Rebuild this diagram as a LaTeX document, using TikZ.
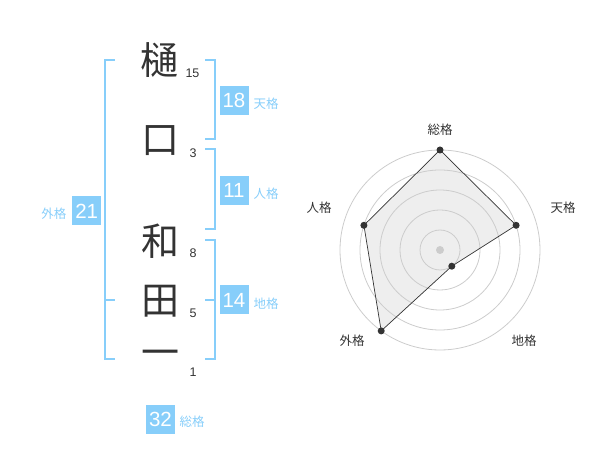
\documentclass[tikz,border=0pt]{standalone}
\usepackage{fontspec}
\setmainfont{Liberation Sans}
\newfontfamily\jp{Noto Sans CJK JP}
\definecolor{sky}{RGB}{135,206,250}
\definecolor{ink}{RGB}{51,51,51}
\definecolor{ringc}{RGB}{204,204,204}
\definecolor{polyfill}{RGB}{238,238,238}
\begin{document}
\begin{tikzpicture}[x=1pt,y=-1pt,
  kanji/.style={font=\jp\fontsize{38}{38}\selectfont, text=ink, inner sep=0pt},
  strokes/.style={font=\fontsize{12.5}{12.5}\selectfont, text=ink, inner sep=0pt},
  numbox/.style={fill=sky, text=white, minimum size=29pt, inner sep=0pt, font=\fontsize{20.5}{20.5}\selectfont},
  lbl/.style={font=\jp\fontsize{12.5}{12.5}\selectfont, text=sky, inner sep=0pt},
  brk/.style={draw=sky, line width=2pt},
  ring/.style={draw=ringc, line width=0.8pt},
  axlbl/.style={font=\jp\fontsize{12.5}{12.5}\selectfont, text=ink, inner sep=0pt},
  vdot/.style={circle, fill=ink, inner sep=0pt, minimum size=7pt},
  poly/.style={draw=ink, line width=0.7pt}
]
\useasboundingbox (0,0) rectangle (600,470);

% name characters
\node[kanji] (c1) at (159.5,60.3) {樋};
\node[kanji] (c2) at (160,141) {口};
\node[kanji] (c3) at (160,241) {和};
\node[kanji] (c4) at (160,301) {田};
\node[kanji] (c5) at (160,358.5) {一};

% stroke counts
\node[strokes] (s1) at (192.5,73) {15};
\node[strokes] (s2) at (193,153) {3};
\node[strokes] (s3) at (193,253) {8};
\node[strokes] (s4) at (193,313) {5};
\node[strokes] (s5) at (193,372.5) {1};

% brackets
\draw[brk] (115,60) -- (105,60) -- (105,359) -- (115,359);
\draw[brk] (105,300) -- (115,300);
\draw[brk] (205,60) -- (215,60) -- (215,139) -- (205,139);
\draw[brk] (205,149) -- (215,149) -- (215,229) -- (205,229);
\draw[brk] (205,240) -- (215,240) -- (215,359) -- (205,359);
\draw[brk] (215,300) -- (205,300);

% score boxes
\node[numbox] (ten) at (234,100.5) {18};
\node[lbl] (tenl) at (266,104) {天格};
\node[numbox] (jin) at (234,190.5) {11};
\node[lbl] (jinl) at (266,194) {人格};
\node[numbox] (chi) at (234,300) {14};
\node[lbl] (chil) at (266,304) {地格};
\node[numbox] (gai) at (86.7,211) {21};
\node[lbl] (gail) at (54,214) {外格};
\node[numbox] (sou) at (160.5,419) {32};
\node[lbl] (soul) at (192,422) {総格};

% radar chart
\coordinate (o) at (440,250);
\coordinate (pS) at (440,150);
\coordinate (pT) at (516.1,225.3);
\coordinate (pC) at (451.8,266.2);
\coordinate (pG) at (381.2,330.9);
\coordinate (pJ) at (363.9,225.3);
\fill[polyfill] (pS) -- (pT) -- (pC) -- (pG) -- (pJ) -- cycle;
\foreach \r in {20,40,60,80,100} \draw[ring] (o) circle[radius=\r];
\fill[ringc] (o) circle[radius=4];
\node[vdot] (dS) at (pS) {};
\node[vdot] (dT) at (pT) {};
\node[vdot] (dC) at (pC) {};
\node[vdot] (dG) at (pG) {};
\node[vdot] (dJ) at (pJ) {};
\draw[poly] (dS.center) -- (dT.center) -- (dC.center) -- (dG.center) -- (dJ.center) -- (dS.center);

\node[axlbl] (aS) at (440,130) {総格};
\node[axlbl] (aT) at (563,208) {天格};
\node[axlbl] (aC) at (524,341) {地格};
\node[axlbl] (aG) at (352,341) {外格};
\node[axlbl] (aJ) at (319,208) {人格};
\end{tikzpicture}
\end{document}
